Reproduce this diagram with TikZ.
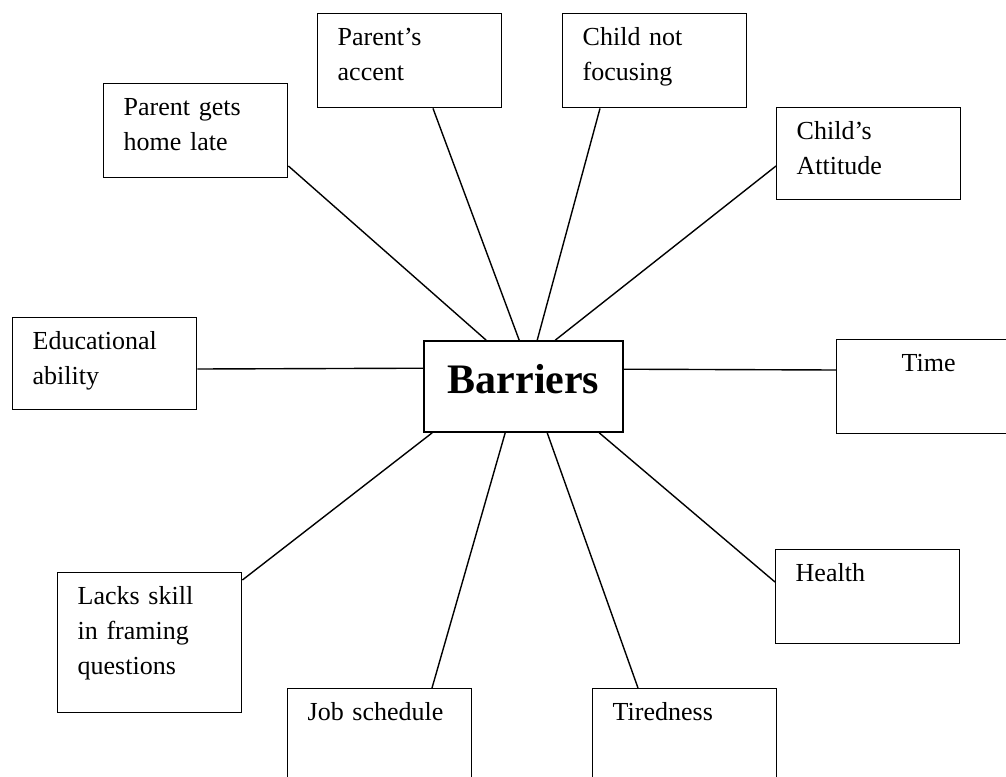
\documentclass[tikz,border=0pt]{standalone}
\usepackage{fontspec}
\setmainfont{Liberation Serif}
\usepackage{tikz}
\usetikzlibrary{calc}
\tikzset{
  cause/.style={draw,line width=0.7pt,anchor=north west,align=left,text width=72pt,
                inner xsep=10pt,inner ysep=0pt,text height=16pt,text depth=31pt,
                font=\fontsize{13}{17.5}\selectfont},
  hub/.style={draw,line width=0.8pt,minimum width=99.5pt,minimum height=45.5pt,
              text depth=8pt,font=\fontsize{21}{25}\selectfont\bfseries},
  spoke/.style={line width=0.7pt},
}

\begin{document}
\begin{tikzpicture}[x=0.5pt,y=-0.5pt]
  \useasboundingbox (0,0) rectangle (1006,776);
  \clip (0,0) rectangle (1006,776);

  \node[hub] (bar) at (523.5,386.5) {Barriers};

  \node[cause]                 (home)   at (103,83)  {Parent gets\\home late};
  \node[cause]                 (accent) at (317,13)  {Parent’s\\accent};
  \node[cause]                 (focus)  at (562,13)  {Child not\\focusing};
  \node[cause,text depth=30pt] (attit)  at (776,107) {Child’s\\Attitude};
  \node[cause,text depth=30pt] (edu)    at (12,317)  {Educational\\ability};
  \node[cause,align=center]    (time)   at (836,339) {Time};
  \node[cause,text depth=54pt] (skill)  at (57,572)  {Lacks skill\\in framing\\questions};
  \node[cause]                 (health) at (775,549) {Health};
  \node[cause]                 (job)    at (287,688) {Job schedule};
  \node[cause]                 (tired)  at (592,688) {Tiredness};

  \draw[spoke] ($(home.north east)+(0,83)$)    -- ($(bar.north west)+(63,0)$);
  \draw[spoke] ($(accent.south west)+(116,0)$) -- ($(bar.north west)+(96,0)$);
  \draw[spoke] ($(focus.south west)+(38,0)$)   -- ($(bar.north west)+(114,0)$);
  \draw[spoke] ($(attit.north west)+(0,59)$)   -- ($(bar.north west)+(132,0)$);
  \draw[spoke] ($(edu.north east)+(0,52)$)     -- ($(bar.north west)+(0,28)$);
  \draw[spoke] ($(bar.north east)+(0,29)$)     -- ($(time.north west)+(0,31)$);
  \draw[spoke] ($(skill.north east)+(0,8)$)    -- ($(bar.south west)+(9,0)$);
  \draw[spoke] ($(job.north west)+(145,0)$)    -- ($(bar.south west)+(82,0)$);
  \draw[spoke] ($(tired.north west)+(46,0)$)   -- ($(bar.south west)+(124,0)$);
  \draw[spoke] ($(health.north west)+(0,33)$)  -- ($(bar.south west)+(176,0)$);
\end{tikzpicture}
\end{document}
